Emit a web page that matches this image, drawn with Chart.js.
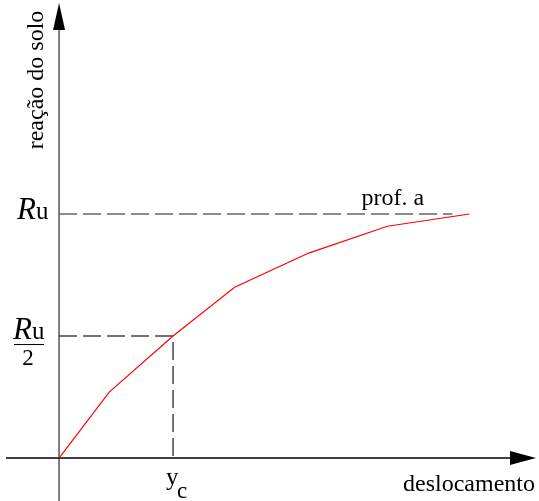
<!DOCTYPE html>
<html>
<head>
<meta charset="utf-8">
<script src="https://cdn.jsdelivr.net/npm/chart.js@4/dist/chart.umd.min.js"></script>
<style>
  html, body { margin: 0; padding: 0; background: #fff; }
  #wrap { width: 539px; height: 501px; position: relative; }
</style>
</head>
<body>
<div id="wrap"><canvas id="curveChart"></canvas></div>
<script>
// load-displacement curve, normalised: reaction / Ru, displacement / yc
const displacement = [0, 0.44, 1.0, 1.54, 2.19, 2.88, 3.60];
const reaction = [0, 0.27, 0.5, 0.70, 0.84, 0.95, 1.0];
const ultimate = 1.0;     // Ru
const halfUltimate = 0.5; // Ru / 2
const yc = 1.0;           // displacement at Ru / 2
const guideEnd = 3.45;    // where the Ru guide line stops

const SERIF = '"Liberation Serif", "DejaVu Serif", serif';
const DASH = [18, 6];

const curve = displacement.map((x, i) => ({ x: x, y: reaction[i] }));
const xEnd = displacement[displacement.length - 1];

/**
 * Axes with arrow heads and the text annotations
 */
const sketchPlugin = {
    id: 'sketch',
    beforeDatasetsDraw(chart) {
        const ctx = chart.ctx;
        const xs = chart.scales.x;
        const ys = chart.scales.y;
        const area = chart.chartArea;
        const x0 = xs.getPixelForValue(0);
        const y0 = ys.getPixelForValue(0);

        ctx.save();
        // vertical axis
        ctx.strokeStyle = '#555';
        ctx.lineWidth = 1.5;
        ctx.beginPath();
        ctx.moveTo(x0, area.bottom);
        ctx.lineTo(x0, area.top + 20);
        ctx.stroke();
        ctx.fillStyle = '#000';
        ctx.beginPath();
        ctx.moveTo(x0, area.top + 3);
        ctx.lineTo(x0 - 6, area.top + 30);
        ctx.lineTo(x0 + 6, area.top + 30);
        ctx.closePath();
        ctx.fill();

        // horizontal axis
        ctx.strokeStyle = '#000';
        ctx.beginPath();
        ctx.moveTo(area.left + 6, y0);
        ctx.lineTo(area.right - 20, y0);
        ctx.stroke();
        ctx.beginPath();
        ctx.moveTo(area.right - 3, y0);
        ctx.lineTo(area.right - 29, y0 - 7);
        ctx.lineTo(area.right - 29, y0 + 7);
        ctx.closePath();
        ctx.fill();
        ctx.restore();
    },
    afterDraw(chart) {
        const ctx = chart.ctx;
        const xs = chart.scales.x;
        const ys = chart.scales.y;
        const area = chart.chartArea;
        const x0 = xs.getPixelForValue(0);
        const y0 = ys.getPixelForValue(0);
        const yRu = ys.getPixelForValue(ultimate);
        const yHalf = ys.getPixelForValue(halfUltimate);
        const xYc = xs.getPixelForValue(yc);

        ctx.save();
        ctx.fillStyle = '#000';
        ctx.textBaseline = 'alphabetic';

        // y axis title
        ctx.save();
        ctx.translate(x0 - 16, area.top + 80);
        ctx.rotate(-Math.PI / 2);
        ctx.textAlign = 'center';
        ctx.font = '24px ' + SERIF;
        ctx.fillText('reação do solo', 0, 0);
        ctx.restore();

        ctx.textAlign = 'left';

        // Ru
        ctx.font = 'italic 31px ' + SERIF;
        ctx.fillText('R', x0 - 42, yRu + 5);
        ctx.font = '25px ' + SERIF;
        ctx.fillText('u', x0 - 23, yRu + 5);

        // Ru / 2
        ctx.font = 'italic 31px ' + SERIF;
        ctx.fillText('R', x0 - 46, yHalf + 3);
        ctx.font = '25px ' + SERIF;
        ctx.fillText('u', x0 - 27, yHalf + 3);
        ctx.strokeStyle = '#000';
        ctx.lineWidth = 1;
        ctx.beginPath();
        ctx.moveTo(x0 - 45, yHalf + 8.5);
        ctx.lineTo(x0 - 15, yHalf + 8.5);
        ctx.stroke();
        ctx.textAlign = 'center';
        ctx.font = '23px ' + SERIF;
        ctx.fillText('2', x0 - 31, yHalf + 29);

        // yc
        ctx.textAlign = 'left';
        ctx.font = '25px ' + SERIF;
        ctx.fillText('y', xYc - 7, y0 + 27);
        ctx.font = '23px ' + SERIF;
        ctx.fillText('c', xYc + 4, y0 + 40);

        // curve and axis labels
        ctx.font = '24px ' + SERIF;
        ctx.fillText('prof. a', xs.getPixelForValue(xEnd) - 108, yRu - 9);
        ctx.fillText('deslocamento', area.right - 136, y0 + 33);
        ctx.restore();
    }
};

new Chart(document.getElementById('curveChart'), {
    type: 'scatter',
    data: {
        datasets: [{
            label: 'reação do solo',
            data: curve,
            showLine: true,
            borderColor: '#ff0000',
            borderWidth: 1.2,
            pointRadius: 0,
            tension: 0,
            order: 0
        }, {
            label: 'Ru',
            data: [{ x: 0, y: ultimate }, { x: guideEnd, y: ultimate }],
            showLine: true,
            borderColor: '#666',
            borderWidth: 1.5,
            borderDash: DASH,
            pointRadius: 0,
            order: 1
        }, {
            label: 'Ru/2',
            data: [{ x: 0, y: halfUltimate }, { x: yc, y: halfUltimate }, { x: yc, y: 0 }],
            showLine: true,
            borderColor: '#444',
            borderWidth: 1.5,
            borderDash: DASH,
            pointRadius: 0,
            order: 1
        }]
    },
    options: {
        responsive: true,
        maintainAspectRatio: false,
        animation: false,
        layout: { padding: 0 },
        plugins: {
            legend: { display: false },
            tooltip: { enabled: false }
        },
        scales: {
            x: {
                type: 'linear',
                display: false,
                min: -0.518,
                max: 4.21
            },
            y: {
                type: 'linear',
                display: false,
                min: -0.176,
                max: 1.877
            }
        }
    },
    plugins: [sketchPlugin]
});
</script>
</body>
</html>
